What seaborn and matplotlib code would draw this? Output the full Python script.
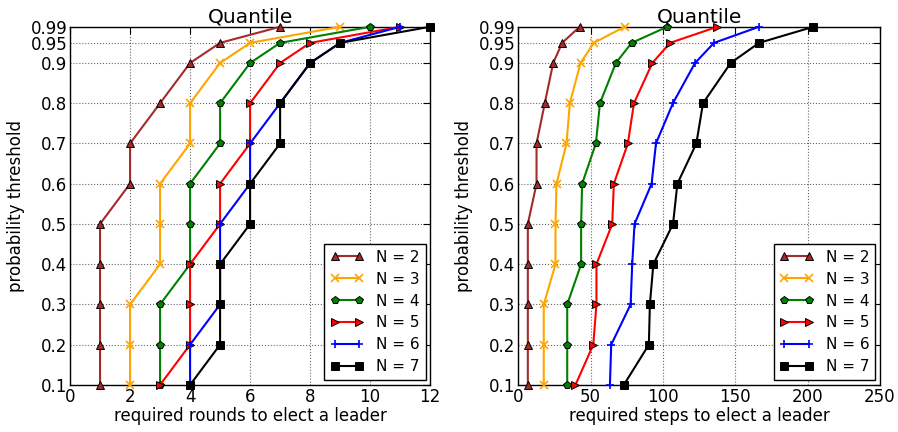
import matplotlib
matplotlib.use("Agg")
import matplotlib.pyplot as plt
import seaborn as sns
import numpy as np

# probability thresholds (y)
thresholds = [0.1, 0.2, 0.3, 0.4, 0.5, 0.6, 0.7, 0.8, 0.9, 0.95, 0.99]
ytick_labels = ["0.1", "0.2", "0.3", "0.4", "0.5", "0.6", "0.7", "0.8", "0.9", "0.95", "0.99"]

# rounds needed (left panel)
rounds_n2 = [1, 1, 1, 1, 1, 2, 2, 3, 4, 5, 7]
rounds_n3 = [2, 2, 2, 3, 3, 3, 4, 4, 5, 6, 9]
rounds_n4 = [3, 3, 3, 4, 4, 4, 5, 5, 6, 7, 10]
rounds_n5 = [3, 4, 4, 4, 5, 5, 6, 6, 7, 8, 11]
rounds_n6 = [4, 4, 5, 5, 5, 6, 6, 7, 8, 9, 11]
rounds_n7 = [4, 5, 5, 5, 6, 6, 7, 7, 8, 9, 12]

# steps needed (right panel)
steps_n2 = [6.7, 6.7, 6.7, 6.7, 6.7, 12.7, 12.7, 18.4, 24.2, 30.4, 42.5]
steps_n3 = [17.7, 17.7, 17.7, 25.8, 25.8, 26.5, 33.4, 35.7, 43.1, 52.3, 73.5]
steps_n4 = [33.9, 33.9, 33.9, 43.5, 43.5, 44.2, 53.7, 56.5, 67.5, 78.4, 103]
steps_n5 = [39.6, 51.9, 54.1, 54.1, 65, 66.1, 75.8, 80, 92.7, 104.9, 137.6]
steps_n6 = [63.4, 64.3, 77.7, 78.8, 80.4, 92.2, 95.2, 106.9, 122.2, 135.3, 166.4]
steps_n7 = [73, 90.3, 91, 93.4, 107, 110, 123.1, 127.7, 146.8, 166.4, 204]

labels = ["N = 2", "N = 3", "N = 4", "N = 5", "N = 6", "N = 7"]
colors = ["#A52A2A", "orange", "green", "red", "blue", "black"]
markers = ["^", "x", "p", ">", "+", "s"]

sns.set_style("white")
plt.rcParams["font.family"] = ["DejaVu Sans"]
plt.rcParams.update({"text.color": "black", "axes.labelcolor": "black",
                     "xtick.color": "black", "ytick.color": "black"})

fig = plt.figure(figsize=(8.98, 4.32), dpi=100)
ax1 = fig.add_axes([0.078, 0.109, 0.401, 0.829])
ax2 = fig.add_axes([0.577, 0.109, 0.403, 0.829])


def draw(ax, series, xlim, xticks, xlabel):
    for vals, lab, c, m in zip(series, labels, colors, markers):
        sns.lineplot(x=vals, y=thresholds, ax=ax, sort=False, estimator=None,
                     color=c, marker=m, markersize=6, linewidth=1.5,
                     markeredgecolor=c if m in ("x", "+") else "black",
                     markeredgewidth=1.2 if m in ("x", "+") else 0.7,
                     label=lab, clip_on=False, zorder=3)
    ax.set_xlim(*xlim)
    ax.set_ylim(0.1, 0.99)
    ax.set_xticks(xticks)
    ax.set_yticks(thresholds)
    ax.set_yticklabels(ytick_labels)
    ax.grid(True, linestyle=":", color="black", linewidth=0.8, alpha=0.6)
    ax.tick_params(direction="in", top=True, right=True, labelsize=12, length=5,
                   pad=2, colors="black")
    for s in ax.spines.values():
        s.set_color("black")
        s.set_linewidth(1.0)
    ax.set_title("Quantile", fontsize=14.5, pad=3, color="black")
    ax.set_xlabel(xlabel, fontsize=12, labelpad=1)
    ax.set_ylabel("probability threshold", fontsize=12)
    leg = ax.legend(loc="lower right", fontsize=11, numpoints=2, fancybox=False,
                    framealpha=1, edgecolor="black", handlelength=2.2,
                    borderaxespad=0.3, labelspacing=0.45)
    leg.get_frame().set_linewidth(1.0)
    for t in leg.get_texts():
        t.set_color("black")


draw(ax1, [rounds_n2, rounds_n3, rounds_n4, rounds_n5, rounds_n6, rounds_n7],
     (0, 12), np.arange(0, 13, 2), "required rounds to elect a leader")
draw(ax2, [steps_n2, steps_n3, steps_n4, steps_n5, steps_n6, steps_n7],
     (0, 250), np.arange(0, 251, 50), "required steps to elect a leader")

fig.savefig("out.png", dpi=100)
